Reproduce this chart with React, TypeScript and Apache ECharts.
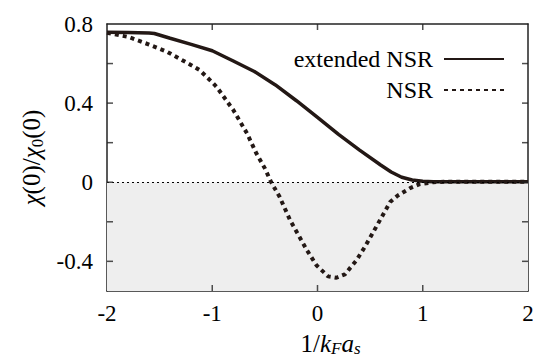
import React, { useEffect, useRef } from "react";
import * as echarts from "echarts";

const extX = [-2, -1.8, -1.6, -1.55, -1.4, -1.2, -1.0, -0.8, -0.6, -0.4, -0.2, 0, 0.2, 0.4, 0.6, 0.7, 0.8, 0.9, 1.0, 1.1, 1.2, 1.5, 2.0];
const extY = [0.758, 0.757, 0.755, 0.752, 0.728, 0.697, 0.665, 0.613, 0.56, 0.492, 0.412, 0.328, 0.242, 0.162, 0.087, 0.052, 0.025, 0.011, 0.005, 0.003, 0.002, 0.002, 0.002];

const nsrX = [-2, -1.8, -1.6, -1.43, -1.2, -1.12, -1.0, -0.96, -0.8, -0.67, -0.58, -0.5, -0.44, -0.36, -0.26, -0.18, -0.1, -0.01, 0.1, 0.18, 0.26, 0.37, 0.45, 0.53, 0.61, 0.69, 0.76, 0.88, 0.97, 1.1, 1.2, 1.5, 2.0];
const nsrY = [0.755, 0.735, 0.696, 0.66, 0.592, 0.567, 0.505, 0.483, 0.365, 0.247, 0.145, 0.07, 0.0, -0.074, -0.192, -0.268, -0.344, -0.42, -0.476, -0.483, -0.466, -0.395, -0.327, -0.252, -0.176, -0.1, -0.068, -0.03, -0.01, 0.0, 0.002, 0.002, 0.002];

const X_MIN = -2;
const X_MAX = 2;
const Y_MIN = -0.55;
const Y_MAX = 0.8;
const xTickValues = [-1, 0, 1];
const yLabelValues = [-0.4, 0, 0.4, 0.8];
const yTickValues = [-0.4, -0.2, 0, 0.2, 0.4, 0.6];

const seriesNames = ["extended NSR", "NSR"];

const FONT = "Times New Roman, serif";
const INK = "#231815";
const TICK_LEN = 6;

export default function App() {
  const ref = useRef<HTMLDivElement>(null);
  useEffect(() => {
    if (!ref.current) return;
    const chart = echarts.init(ref.current, undefined, { renderer: "svg" });
    const richTitle = {
      n: { fontSize: 25, fontFamily: FONT, color: "#000", lineHeight: 28 },
      i: { fontSize: 25, fontFamily: FONT, fontStyle: "italic", color: "#000", lineHeight: 28 },
      s: { fontSize: 17, fontFamily: FONT, fontStyle: "italic", color: "#000", lineHeight: 10, verticalAlign: "bottom" },
      u: { fontSize: 17, fontFamily: FONT, color: "#000", lineHeight: 10, verticalAlign: "bottom" },
    };
    const axisLineStyle = { color: "#222", width: 1.5 };
    const tickSeries = (name: string, data: number[][], size: number[], offset: number[]) => ({
      name,
      type: "scatter",
      silent: true,
      clip: false,
      z: 6,
      symbol: "rect",
      symbolSize: size,
      symbolOffset: offset,
      itemStyle: { color: "#222" },
      data,
    });
    chart.setOption({
      animation: false,
      backgroundColor: "#fff",
      textStyle: { fontFamily: FONT },
      grid: { left: 107, right: 5, top: 24, bottom: 67, containLabel: false, outerBoundsMode: "none" },
      legend: {
        data: seriesNames,
        orient: "vertical",
        right: 23,
        top: 42,
        align: "right",
        itemWidth: 60,
        itemHeight: 14,
        itemGap: 7,
        itemStyle: { opacity: 0 },
        textStyle: { fontSize: 24, fontFamily: FONT, color: "#000", padding: [0, 6, 0, 0] },
      },
      xAxis: [
        {
          type: "value",
          min: X_MIN,
          max: X_MAX,
          interval: 1,
          axisLine: { show: true, onZero: false, lineStyle: axisLineStyle },
          axisTick: { show: false },
          axisLabel: { fontSize: 23, fontFamily: FONT, color: "#000", margin: 11 },
          splitLine: { show: false },
          name: "{n|1/}{i|k}{s|F}{i|a}{s|s}",
          nameLocation: "middle",
          nameGap: 38,
          nameTextStyle: { rich: richTitle, padding: [0, 0, 0, 26] },
        },
        {
          type: "value",
          position: "top",
          min: X_MIN,
          max: X_MAX,
          interval: 1,
          axisLine: { show: true, onZero: false, lineStyle: axisLineStyle },
          axisTick: { show: false },
          axisLabel: { show: false },
          splitLine: { show: false },
        },
      ],
      yAxis: [
        {
          type: "value",
          min: Y_MIN,
          max: Y_MAX,
          axisLine: { show: true, onZero: false, lineStyle: axisLineStyle },
          axisTick: { show: false },
          axisLabel: {
            fontSize: 23,
            fontFamily: FONT,
            color: "#000",
            margin: 14,
            customValues: yLabelValues,
            formatter: (v: number) => String(Math.round(v * 10) / 10),
          },
          splitLine: { show: false },
          name: "{i|χ}{n|(0)/}{i|χ}{u|0}{n|(0)}",
          nameLocation: "middle",
          nameGap: 60,
          nameTextStyle: { rich: richTitle },
        },
        {
          type: "value",
          position: "right",
          min: Y_MIN,
          max: Y_MAX,
          axisLine: { show: true, onZero: false, lineStyle: axisLineStyle },
          axisTick: { show: false },
          axisLabel: { show: false },
          splitLine: { show: false },
        },
      ],
      series: [
        {
          name: "zero",
          type: "line",
          data: [],
          silent: true,
          z: 1,
          markArea: {
            silent: true,
            itemStyle: { color: "#eeeeee" },
            data: [[{ yAxis: Y_MIN }, { yAxis: 0 }]],
          },
          markLine: {
            silent: true,
            symbol: "none",
            label: { show: false },
            lineStyle: { color: "#000", width: 1, type: [2, 3] },
            data: [{ yAxis: 0 }],
          },
        },
        tickSeries("xticksBottom", xTickValues.map((v) => [v, Y_MIN]), [1.5, TICK_LEN], [0, -TICK_LEN / 2]),
        tickSeries("xticksTop", xTickValues.map((v) => [v, Y_MAX]), [1.5, TICK_LEN], [0, TICK_LEN / 2]),
        tickSeries("yticksLeft", yTickValues.map((v) => [X_MIN, v]), [TICK_LEN, 1.5], [TICK_LEN / 2, 0]),
        tickSeries("yticksRight", yTickValues.map((v) => [X_MAX, v]), [TICK_LEN, 1.5], [-TICK_LEN / 2, 0]),
        {
          name: seriesNames[0],
          type: "line",
          data: extX.map((x, i) => [x, extY[i]]),
          showSymbol: false,
          symbol: "none",
          z: 3,
          lineStyle: { color: INK, width: 3.5 },
          itemStyle: { color: INK },
        },
        {
          name: seriesNames[1],
          type: "line",
          data: nsrX.map((x, i) => [x, nsrY[i]]),
          showSymbol: false,
          symbol: "none",
          z: 4,
          lineStyle: { color: INK, width: 4, type: [4, 4] },
          itemStyle: { color: INK },
        },
      ],
    });
    return () => chart.dispose();
  }, []);
  return <div ref={ref} style={{ width: 533, height: 358, position: "fixed", left: 0, top: 0 }} />;
}
